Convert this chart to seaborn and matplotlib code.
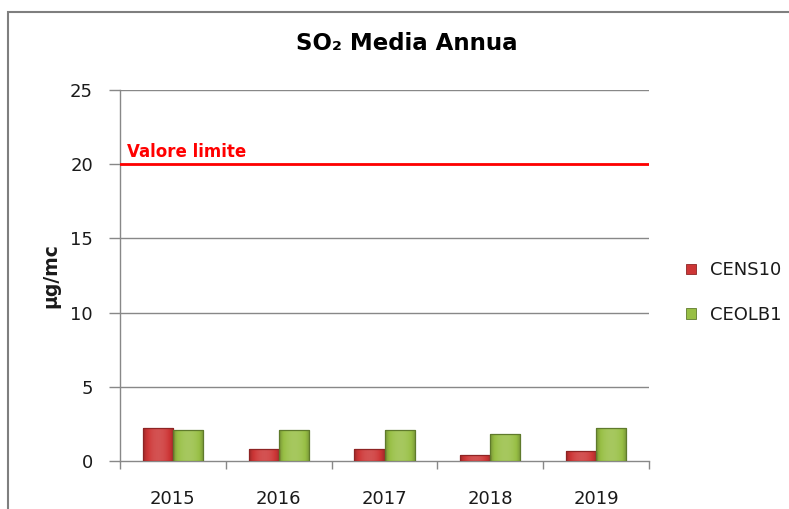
import matplotlib
matplotlib.use("Agg")
import matplotlib.pyplot as plt
import matplotlib.patches as mpatches
import matplotlib.colors as mcolors
import seaborn as sns
import pandas as pd
import numpy as np

# ---- data ----
years = ["2015", "2016", "2017", "2018", "2019"]
stations = ["CENS10", "CEOLB1"]
cens10 = [2.2, 0.8, 0.8, 0.4, 0.7]
ceolb1 = [2.1, 2.1, 2.1, 1.8, 2.2]
limit_value = 20
limit_label = "Valore limite"
y_ticks = [0, 5, 10, 15, 20, 25]
title = "SO\u2082 Media Annua"
y_label = "µg/mc"

df = pd.DataFrame({
    "Anno": years * 2,
    "Stazione": [stations[0]] * len(years) + [stations[1]] * len(years),
    "Valore": cens10 + ceolb1,
})

sns.set_style("white")
plt.rcParams["font.family"] = ["DejaVu Sans"]

W, H = 789, 509
fig = plt.figure(figsize=(W / 100, H / 100), dpi=100)
fig.patch.set_facecolor("white")

ax_left, ax_right, ax_top, ax_bottom = 120, 649, 90, 461
ax = fig.add_axes([ax_left / W, 1 - ax_bottom / H, (ax_right - ax_left) / W, (ax_bottom - ax_top) / H])

red = "#CD3636"
green = "#98BF45"
txt = "#1a1a1a"
grid = "#888888"

sns.barplot(data=df, x="Anno", y="Valore", hue="Stazione", hue_order=stations,
            palette=[red, green], width=0.57, gap=0, saturation=1,
            linewidth=0.0, ax=ax, zorder=3)

# shaded (bevel-like) look on each bar
def shade(base, n=64, light=0.14, dark=0.22):
    rgb = np.array(mcolors.to_rgb(base))
    t = np.linspace(-1, 1, n)
    prof = 1 - np.abs(t) ** 2.0
    cols = []
    for v in prof:
        if v >= 0.5:
            f = (v - 0.5) / 0.5 * light
            c = rgb + (1 - rgb) * f
        else:
            f = (0.5 - v) / 0.5 * dark
            c = rgb * (1 - f)
        cols.append(c)
    return np.array(cols)[None, :, :]

for bar_container, base, ec in zip(ax.containers, [red, green], ["#8E2424", "#5F7A2C"]):
    grad = shade(base)
    for p in bar_container:
        x0, y0, w, h = p.get_x(), p.get_y(), p.get_width(), p.get_height()
        im = ax.imshow(grad, extent=[x0, x0 + w, y0, y0 + h], aspect="auto",
                       zorder=3.2, interpolation="bilinear")
        im.set_clip_path(p)
        p.set_edgecolor(ec)
        p.set_linewidth(0.9)
        p.set_zorder(3.4)
        p.set_facecolor("none")

ax.set_ylim(0, 25)
ax.set_yticks(y_ticks)
ax.set_xlim(-0.5, 4.5)
ax.set_aspect("auto")

# grid
for yv in y_ticks[1:]:
    ax.axhline(yv, color=grid, lw=1.0, zorder=1)

# limit line
ax.axhline(limit_value, color="#FF0000", lw=2.0, zorder=4)
ax.text(7.3 / (ax_right - ax_left), 20.5, limit_label, color="#FF0000", fontsize=12,
        fontweight="bold", ha="left", va="baseline", transform=ax.get_yaxis_transform(), zorder=5)

# spines
for s in ["top", "right"]:
    ax.spines[s].set_visible(False)
for s in ["left", "bottom"]:
    ax.spines[s].set_color(grid)
    ax.spines[s].set_linewidth(1.0)

ax.tick_params(axis="y", direction="out", length=8, width=1, color=grid, pad=11.5,
               labelsize=13, labelcolor=txt, left=True)
ax.set_xticks(range(len(years)))
ax.set_xticklabels(years)
ax.set_xticks(np.arange(-0.5, len(years), 1.0), minor=True)
ax.tick_params(axis="x", which="major", length=0, pad=21, labelsize=13, labelcolor=txt)
ax.tick_params(axis="x", which="minor", direction="out", length=6, width=1, color=grid, bottom=True)

ax.set_xlabel("")
ax.set_ylabel(y_label, fontsize=13.5, fontweight="bold", color=txt)
ax.yaxis.set_label_coords(-0.113, 0.5)

# legend
handles, labels = ax.get_legend_handles_labels()
for hdl, col, ec in zip(handles, [red, green], ["#8E2424", "#5F7A2C"]):
    hdl.set_facecolor(col)
    hdl.set_edgecolor(ec)
    hdl.set_linewidth(0.6)
ax.legend(handles, labels, loc="center left", bbox_to_anchor=(686 / W, 1 - 292.5 / H),
          bbox_transform=fig.transFigure, frameon=False, fontsize=13,
          handlelength=0.55, handleheight=0.55, handletextpad=0.78, labelspacing=1.45,
          borderpad=0, borderaxespad=0, labelcolor=txt)

# title
fig.text(407 / W, 1 - 50 / H, title, ha="center", va="baseline", fontsize=16.5,
         fontweight="bold", color="#000000")

# outer chart frame
frame = mpatches.Rectangle((8 / W, -0.2), 2.0, (1 - 12 / H) + 0.2, transform=fig.transFigure,
                           fill=False, edgecolor="#7F7F7F", linewidth=1.5)
fig.patches.append(frame)

fig.savefig("out.png", dpi=100, facecolor="white")
